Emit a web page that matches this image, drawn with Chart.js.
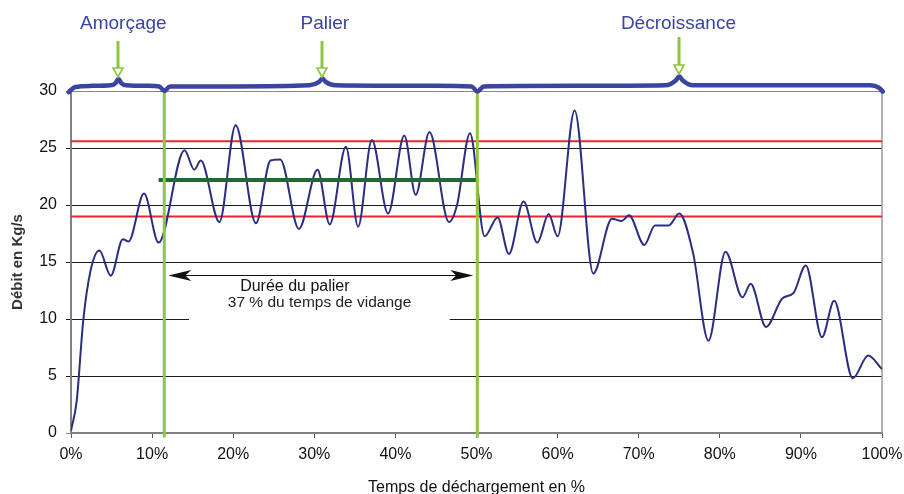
<!DOCTYPE html>
<html>
<head>
<meta charset="utf-8">
<script src="https://cdn.jsdelivr.net/npm/chart.js@4"></script>
<style>
  html, body { margin: 0; padding: 0; background: #fff; }
  #wrap { width: 904px; height: 494px; }
</style>
</head>
<body>
<div id="wrap"><canvas id="debitChart" width="904" height="494"></canvas></div>
<script>
// courbe de débit (temps en % / débit en kg/s)
const tempsPct = [0, 0.7, 1.5, 2.4, 3.5, 4.9, 6.4, 7.1, 9.0, 10.8, 14.0, 15.2, 16.0, 18.3, 20.3, 22.8, 24.6, 25.8,
  28.1, 30.4, 31.9, 33.9, 35.4, 37.1, 39.1, 41.1, 42.5, 44.2, 46.6, 47.6, 49.2, 51.0, 52.6, 54.0, 55.8, 57.5,
  58.9, 60.0, 62.1, 64.4, 66.7, 67.9, 68.8, 70.7, 72.0, 73.7, 75.0, 76.7, 78.6, 80.7, 82.8, 83.8, 85.7, 87.7,
  89.1, 90.6, 92.6, 94.1, 96.4, 98.3, 100];
const debit = [0.2, 2.8, 9.8, 14.2, 16.0, 13.8, 17.0, 16.8, 21.0, 16.7, 24.8, 23.1, 23.9, 18.5, 27.0, 18.4, 23.9, 24.0,
  17.9, 23.1, 18.3, 25.1, 18.1, 25.7, 19.25, 26.1, 20.9, 26.4, 18.5, 20.0, 26.3, 17.25, 18.9, 15.7, 20.3, 16.7,
  19.2, 17.25, 28.3, 14.0, 18.8, 18.6, 19.1, 16.5, 18.2, 18.2, 19.25, 15.8, 8.1, 15.9, 11.9, 13.1, 9.3, 11.8,
  12.3, 14.7, 8.4, 11.6, 4.8, 6.8, 5.6];

// seuils et palier
const seuilHaut = 25.6;
const seuilBas = 19.0;
const palierDebit = 22.2;
const palierTrait = [10.8, 50.2];
const palierBornes = [11.5, 50.1];
const dureeFleche = [12.0, 49.6];
const dureeDebit = 13.9;
const dureeTexte = ['Durée du palier', '37 % du temps de vidange'];

// phases (accolade du haut)
const phases = ['Amorçage', 'Palier', 'Décroissance'];
const phasesTexteX = [6.45, 31.3, 74.9];
const phasesFlecheX = [5.85, 31.0, 75.0];
const accoladeX = [-0.3, 0.5, 2.5, 4.9, 5.5, 5.85, 6.2, 6.8, 9.5, 10.9, 11.5, 12.2, 20, 29.4, 30.6, 31.0, 31.4,
  32.6, 45, 49.4, 50.1, 50.9, 62, 73.3, 74.6, 75.0, 75.4, 76.7, 90, 98.6, 99.6, 100.1];
const accoladeY = [29.9, 30.35, 30.45, 30.5, 30.7, 31.05, 30.7, 30.5, 30.45, 30.4, 30.0, 30.4, 30.4, 30.5, 30.8,
  31.1, 30.8, 30.5, 30.45, 30.4, 29.95, 30.4, 30.45, 30.5, 30.95, 31.3, 30.95, 30.5, 30.5, 30.5, 30.3, 29.95];

// axes
const xTicks = [0, 10, 20, 30, 40, 50, 60, 70, 80, 90, 100];
const yTicks = [0, 5, 10, 15, 20, 25, 30];

const BLEU = '#3b45a0';
const VERT_CLAIR = '#8dc63f';

function pts(xs, ys) {
  return xs.map((x, i) => ({ x: x, y: ys[i] }));
}
function horiz(x0, x1, y) {
  return [{ x: x0, y: y }, { x: x1, y: y }];
}

// flèche noire à pointe creusée
function pointe(ctx, x, y, dir) {
  ctx.beginPath();
  ctx.moveTo(x, y);
  ctx.lineTo(x - dir * 23, y - 5.5);
  ctx.lineTo(x - dir * 17, y);
  ctx.lineTo(x - dir * 23, y + 5.5);
  ctx.closePath();
  ctx.fill();
}

const annotations = {
  id: 'annotations',
  beforeDatasetsDraw(chart) {
    const { ctx, chartArea, scales: { x, y } } = chart;
    ctx.save();
    // bord droit du graphique
    ctx.strokeStyle = '#999';
    ctx.lineWidth = 1.5;
    ctx.beginPath();
    ctx.moveTo(chartArea.right, chartArea.top);
    ctx.lineTo(chartArea.right, chartArea.bottom);
    ctx.stroke();
    // cadre blanc derrière le texte (coupe la ligne 10)
    ctx.fillStyle = '#fff';
    const x0 = x.getPixelForValue(14.55), x1 = x.getPixelForValue(46.7);
    const y0 = y.getPixelForValue(13.35), y1 = y.getPixelForValue(9.4);
    ctx.fillRect(x0, y0, x1 - x0, y1 - y0);
    ctx.restore();
  },
  afterDatasetsDraw(chart) {
    const { ctx, scales: { x, y } } = chart;
    ctx.save();

    // double flèche durée du palier
    const ya = Math.round(y.getPixelForValue(dureeDebit)) + 0.5;
    const xa = x.getPixelForValue(dureeFleche[0]);
    const xb = x.getPixelForValue(dureeFleche[1]);
    ctx.strokeStyle = '#111';
    ctx.fillStyle = '#111';
    ctx.lineWidth = 1;
    ctx.beginPath();
    ctx.moveTo(xa + 10, ya);
    ctx.lineTo(xb - 10, ya);
    ctx.stroke();
    pointe(ctx, xa, ya, -1);
    pointe(ctx, xb, ya, 1);

    ctx.textBaseline = 'middle';
    ctx.textAlign = 'center';
    ctx.font = '16px "Liberation Sans", Arial, sans-serif';
    ctx.fillText(dureeTexte[0], x.getPixelForValue(27.6), y.getPixelForValue(12.85));
    ctx.fillStyle = '#222';
    ctx.font = '15.5px "Liberation Sans", Arial, sans-serif';
    ctx.fillText(dureeTexte[1], x.getPixelForValue(30.65), y.getPixelForValue(11.4));

    // titres des phases et flèches vertes
    ctx.font = '19px "Liberation Sans", Arial, sans-serif';
    phases.forEach((nom, i) => {
      ctx.fillStyle = BLEU;
      ctx.fillText(nom, x.getPixelForValue(phasesTexteX[i]), 24);
      const fx = Math.round(x.getPixelForValue(phasesFlecheX[i]));
      const haut = i === 2 ? 37 : 41;
      const bout = i === 2 ? 74 : 77;
      ctx.strokeStyle = VERT_CLAIR;
      ctx.lineWidth = 3;
      ctx.beginPath();
      ctx.moveTo(fx, haut);
      ctx.lineTo(fx, bout - 8);
      ctx.stroke();
      ctx.lineWidth = 1.6;
      ctx.fillStyle = '#fff';
      ctx.beginPath();
      ctx.moveTo(fx - 5, bout - 9);
      ctx.lineTo(fx + 5, bout - 9);
      ctx.lineTo(fx, bout);
      ctx.closePath();
      ctx.fill();
      ctx.stroke();
    });
    ctx.restore();
  }
};

new Chart(document.getElementById('debitChart'), {
  type: 'line',
  data: {
    datasets: [
      {
        data: pts(accoladeX, accoladeY),
        borderColor: BLEU, borderWidth: 4.5, pointRadius: 0,
        cubicInterpolationMode: 'monotone', clip: false, order: 0,
        borderCapStyle: 'round', borderJoinStyle: 'round'
      },
      {
        data: [{ x: palierBornes[0], y: -0.4 }, { x: palierBornes[0], y: 30 }],
        borderColor: VERT_CLAIR, borderWidth: 3, pointRadius: 0, clip: false, order: 1
      },
      {
        data: [{ x: palierBornes[1], y: -0.4 }, { x: palierBornes[1], y: 30 }],
        borderColor: VERT_CLAIR, borderWidth: 3, pointRadius: 0, clip: false, order: 1
      },
      {
        data: horiz(palierTrait[0], palierTrait[1], palierDebit),
        borderColor: '#1d6a35', borderWidth: 4, pointRadius: 0, order: 2
      },
      {
        data: pts(tempsPct, debit),
        borderColor: '#2b2e80', borderWidth: 2, pointRadius: 0,
        cubicInterpolationMode: 'monotone', order: 3
      },
      {
        data: horiz(0, 100, seuilHaut),
        borderColor: '#e8262b', borderWidth: 2, pointRadius: 0, order: 4
      },
      {
        data: horiz(0, 100, seuilBas),
        borderColor: '#e8262b', borderWidth: 2, pointRadius: 0, order: 4
      }
    ]
  },
  options: {
    responsive: false,
    animation: false,
    layout: { padding: { top: 91, right: 22, left: 0, bottom: 0 } },
    plugins: { legend: { display: false }, tooltip: { enabled: false } },
    scales: {
      x: {
        type: 'linear', min: 0, max: 100,
        afterFit: (s) => { s.height = 61; s.paddingLeft = 0; s.paddingRight = 0; },
        afterBuildTicks: (s) => { s.ticks = xTicks.map(v => ({ value: v })); },
        ticks: {
          padding: 7, color: '#111',
          font: { size: 16, family: '"Liberation Sans", Arial, sans-serif' },
          maxRotation: 0,
          callback: (v) => v + '%'
        },
        grid: { drawOnChartArea: false, tickLength: 5, color: '#555' },
        border: { color: '#808080', width: 2 },
        title: {
          display: true, text: 'Temps de déchargement en %', color: '#111',
          font: { size: 16, family: '"Liberation Sans", Arial, sans-serif', lineHeight: 1.0 },
          padding: { top: 0, bottom: -2 }
        }
      },
      y: {
        min: 0, max: 30,
        afterFit: (s) => { s.width = 71; },
        afterBuildTicks: (s) => { s.ticks = yTicks.map(v => ({ value: v })); },
        ticks: {
          padding: 9, color: '#111',
          font: { size: 16, family: '"Liberation Sans", Arial, sans-serif' }
        },
        grid: {
          tickLength: 5, lineWidth: 1,
          color: (c) => (c.tick && (c.tick.value === 30 || c.tick.value === 0)) ? '#888' : '#1a1a1a'
        },
        border: { color: '#808080', width: 2 },
        title: {
          display: true, text: 'Débit en Kg/s', color: '#333',
          font: { size: 15, weight: 'bold', family: '"Liberation Sans", Arial, sans-serif' },
          padding: { top: 9, bottom: 0 }
        }
      }
    }
  },
  plugins: [annotations]
});
</script>
</body>
</html>
